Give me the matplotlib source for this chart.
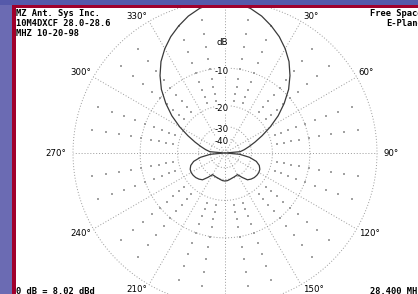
import numpy as np
import matplotlib
matplotlib.use('Agg')
import matplotlib.pyplot as plt
from matplotlib.patches import Rectangle

# E-plane pattern, half of it (symmetric), degrees clockwise from top
angles = [0, 5, 10, 15, 20, 25, 30, 35, 40, 45, 50, 55, 60, 65, 70, 75, 80, 85, 90,
          95, 100, 105, 110, 115, 120, 125, 130, 135, 140, 145, 150, 155, 160, 165,
          170, 175, 180]
gain_db = [0.0, -0.2, -0.6, -1.2, -2.0, -2.9, -4.0, -5.3, -7.0, -9.0, -11.6, -14.6,
           -18.3, -22.5, -26.8, -31.0, -35.0, -39.5, -100.0,
           -40.0, -31.0, -26.5, -24.5, -23.6, -23.3, -23.4, -23.7, -24.3, -25.2,
           -28.0, -31.0, -30.8, -30.5, -30.2, -29.7, -29.2, -29.0]

ring_db = [0, -10, -20, -30, -40]
scale_labels = ['dB', '-10', '-20', '-30', '-40']
scale_db = [-6, -10, -20, -30, -40]
label_angles = [30, 60, 90, 120, 150, 210, 240, 270, 300, 330]
header = ['MZ Ant. Sys Inc.', '10M4DXCF 28.0-28.6', 'MHZ 10-20-98']
corner_right = ['Free Space', 'E-Plane']
footer_left = '0 dB = 8.02 dBd'
footer_right = '28.400 MHz'


def arrl(db):
    # ARRL log scale, 0.89 per 2 dB
    return 0.89 ** (-np.asarray(db, dtype=float) / 2.0)


W, H = 418, 294
cx, cy, R = 225, 153, 152
fig = plt.figure(figsize=(W / 100, H / 100), dpi=100)
fig.patch.set_facecolor('white')

ax = fig.add_axes([(cx - R) / W, (H - cy - R) / H, 2 * R / W, 2 * R / H],
                  projection='polar')
ax.set_theta_zero_location('N')
ax.set_theta_direction(-1)
ax.set_ylim(0, 1)
ax.axis('off')

grid = dict(ls=(0, (1, 2)), lw=0.7, color='#9a9a9a', clip_on=False)
th = np.linspace(0, 2 * np.pi, 721)
for db in ring_db:
    ax.plot(th, np.full_like(th, arrl(db)), **grid)
for a in range(0, 360, 30):
    ax.plot([np.radians(a)] * 2, [0, 1], **grid)

# sparse dots every 10 deg, every 2 dB
dot_t, dot_r = [], []
for a in range(0, 360, 10):
    if a % 30:
        for db in range(-2, -20, -2):
            dot_t.append(np.radians(a))
            dot_r.append(arrl(db))
ax.scatter(dot_t, dot_r, s=0.7, color='#a2a2a2', marker='s', linewidths=0,
           clip_on=False)

full_ang = angles + [360 - a for a in angles[-2::-1]]
full_db = gain_db + gain_db[-2::-1]
ax.plot(np.radians(full_ang), arrl(full_db), color='#3a3a3a', lw=0.9,
        clip_on=False, zorder=5)

for lab, db in zip(scale_labels, scale_db):
    dy = 3 if lab == 'dB' else -3
    ax.annotate(lab, xy=(0, arrl(db)), xytext=(-3, dy), textcoords='offset pixels',
                ha='center', va='center', fontsize=6.2, zorder=6,
                bbox=dict(fc='white', ec='none', pad=0.2))

# angle labels hang off the outer ring by a corner
for a in label_angles:
    s, c = np.sin(np.radians(a)), np.cos(np.radians(a))
    if abs(c) < 0.1:
        ha, va, off = ('left' if s > 0 else 'right'), 'center', (7 * np.sign(s), 0)
    else:
        ha = 'left' if s > 0 else 'right'
        va = 'bottom' if c > 0 else 'top'
        off = (2 * np.sign(s), 0)
    ax.annotate(f'{a}°', xy=(np.radians(a), 1.0), xytext=off,
                textcoords='offset pixels', ha=ha, va=va,
                fontsize=6.2, annotation_clip=False)

mono = dict(family='DejaVu Sans Mono', fontsize=6.3, color='black', weight='bold')
for i, line in enumerate(header):
    fig.text(16 / W, 1 - (13 + 10 * i) / H, line, ha='left', va='center', **mono)
for i, line in enumerate(corner_right):
    fig.text(423 / W, 1 - (13 + 10 * i) / H, line, ha='right', va='center', **mono)
fig.text(16 / W, 1 - 291 / H, footer_left, ha='left', va='center', **mono)
fig.text(423 / W, 1 - 291 / H, footer_right, ha='right', va='center', **mono)

# window frame
tf = fig.transFigure
fig.add_artist(Rectangle((0, 0), 12 / W, 1, transform=tf, color='#6b6bb3', lw=0))
fig.add_artist(Rectangle((0, 1 - 5 / H), 1, 5 / H, transform=tf, color='#5559aa', lw=0))
fig.add_artist(Rectangle((12 / W, 0), 4 / W, 1 - 5 / H, transform=tf, color='#a1002c', lw=0))
fig.add_artist(Rectangle((12 / W, 1 - 8 / H), 1, 3 / H, transform=tf, color='#a1002c', lw=0))

fig.savefig('out.png', dpi=100)
